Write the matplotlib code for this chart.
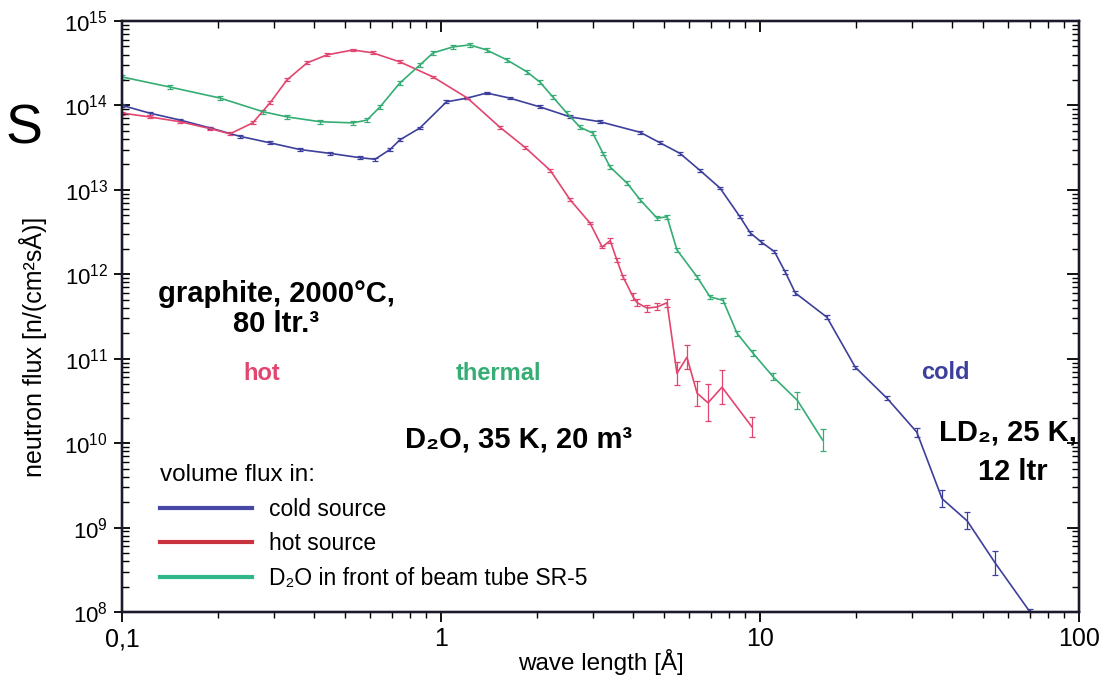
import numpy as np
import matplotlib
matplotlib.use("Agg")
import matplotlib.pyplot as plt
from matplotlib.lines import Line2D
from matplotlib.ticker import LogLocator, FixedLocator, NullFormatter

plt.rcParams['font.family'] = ['Liberation Sans', 'DejaVu Sans']
plt.rcParams['mathtext.fontset'] = 'custom'
plt.rcParams['mathtext.rm'] = 'Liberation Sans'

# ---------- data ----------
# wave length [A] and flux [n/(cm^2 s A)], err = relative half width of the bar
cold_x = [0.100, 0.122, 0.152, 0.189, 0.234, 0.291, 0.361, 0.449, 0.557, 0.621,
          0.692, 0.743, 0.859, 1.04, 1.21, 1.39, 1.64, 2.04, 2.54, 3.15,
          4.21, 4.86, 5.61, 6.48, 7.49, 8.65, 9.31, 10.1, 11.1, 12.0,
          12.9, 16.2, 19.9, 25.0, 31.0, 37.2, 44.6, 54.6, 70.2]
cold_y = [1.0e14, 8.1e13, 6.7e13, 5.4e13, 4.3e13, 3.6e13, 3.0e13, 2.7e13, 2.4e13, 2.3e13,
          3.0e13, 3.9e13, 5.4e13, 1.10e14, 1.22e14, 1.40e14, 1.22e14, 9.6e13, 7.3e13, 6.4e13,
          4.8e13, 3.6e13, 2.7e13, 1.7e13, 1.05e13, 4.8e12, 3.1e12, 2.4e12, 1.85e12, 1.06e12,
          6.0e11, 3.1e11, 7.9e10, 3.4e10, 1.35e10, 2.2e9, 1.2e9, 3.8e8, 1.0e8]
cold_err = [0.04, 0.04, 0.04, 0.04, 0.04, 0.04, 0.04, 0.04, 0.04, 0.04,
            0.04, 0.04, 0.04, 0.04, 0.04, 0.04, 0.04, 0.04, 0.04, 0.04,
            0.04, 0.04, 0.04, 0.04, 0.04, 0.04, 0.05, 0.05, 0.05, 0.05,
            0.05, 0.05, 0.05, 0.06, 0.13, 0.26, 0.26, 0.39, 0.1]

hot_x = [0.100, 0.122, 0.152, 0.189, 0.218, 0.257, 0.291, 0.329, 0.380, 0.439,
         0.530, 0.612, 0.743, 0.944, 1.21, 1.53, 1.83, 2.20, 2.54, 2.93,
         3.20, 3.39, 3.56, 3.72, 4.00, 4.12, 4.42, 4.76, 5.11, 5.49,
         5.90, 6.35, 6.87, 7.60, 9.44]
hot_y = [8.1e13, 7.3e13, 6.4e13, 5.3e13, 4.6e13, 6.2e13, 1.07e14, 2.0e14, 3.18e14, 3.96e14,
         4.53e14, 4.18e14, 3.27e14, 2.17e14, 1.22e14, 5.5e13, 3.2e13, 1.7e13, 7.6e12, 4.05e12,
         2.1e12, 2.5e12, 1.47e12, 9.3e11, 5.4e11, 4.6e11, 3.97e11, 4.1e11, 4.6e11, 6.7e10,
         1.04e11, 3.9e10, 3.0e10, 4.6e10, 1.55e10]
hot_err = [0.04, 0.04, 0.04, 0.04, 0.04, 0.04, 0.04, 0.04, 0.04, 0.04,
           0.04, 0.04, 0.04, 0.04, 0.04, 0.04, 0.04, 0.04, 0.04, 0.04,
           0.04, 0.06, 0.06, 0.06, 0.1, 0.1, 0.1, 0.1, 0.12, 0.37,
           0.39, 0.41, 0.65, 0.6, 0.3]

thermal_x = [0.100, 0.141, 0.203, 0.277, 0.329, 0.418, 0.530, 0.586, 0.644, 0.743,
             0.859, 0.944, 1.09, 1.23, 1.39, 1.61, 1.86, 2.04, 2.24, 2.48,
             2.73, 2.99, 3.22, 3.39, 3.83, 4.21, 4.76, 5.11, 5.49, 6.35,
             6.97, 7.66, 8.47, 9.51, 10.99, 13.1, 15.7]
thermal_y = [2.17e14, 1.65e14, 1.22e14, 8.4e13, 7.3e13, 6.4e13, 6.2e13, 6.7e13, 9.6e13, 1.84e14,
             3.01e14, 4.18e14, 4.92e14, 5.2e14, 4.53e14, 3.45e14, 2.49e14, 1.89e14, 1.26e14, 8.1e13,
             5.5e13, 4.7e13, 2.7e13, 1.86e13, 1.20e13, 7.6e12, 4.6e12, 4.8e12, 1.94e12, 9.3e11,
             5.4e11, 4.9e11, 2.0e11, 1.16e11, 6.1e10, 3.2e10, 1.09e10]
thermal_err = [0.05, 0.05, 0.05, 0.05, 0.05, 0.05, 0.05, 0.05, 0.05, 0.05,
               0.05, 0.05, 0.05, 0.05, 0.05, 0.05, 0.05, 0.05, 0.05, 0.05,
               0.05, 0.05, 0.05, 0.05, 0.05, 0.05, 0.06, 0.06, 0.06, 0.06,
               0.06, 0.06, 0.07, 0.08, 0.1, 0.26, 0.35]

legend_labels = ["cold source", "hot source", "D₂O in front of beam tube SR-5"]
x_ticks = [0.1, 1, 10, 100]
x_ticklabels = ["0,1", "1", "10", "100"]
y_ticks = [1e8, 1e9, 1e10, 1e11, 1e12, 1e13, 1e14, 1e15]

c_cold = "#3d3f9c"
c_hot = "#e2456f"
c_thermal = "#35ad74"

fig = plt.figure(figsize=(11.09, 6.81), dpi=100)
ax = fig.add_axes([0.110, 0.1013, 0.863, 0.868])


def draw(xs, ys, errs, col):
    xs = np.array(xs)
    ys = np.array(ys)
    errs = np.array(errs)
    lo = ys - ys / (1 + errs)
    hi = ys * errs
    ax.errorbar(xs, ys, yerr=[lo, hi], color=col, lw=1.2, elinewidth=0.9,
                capsize=2.5, capthick=0.9)


draw(cold_x, cold_y, cold_err, c_cold)
draw(hot_x, hot_y, hot_err, c_hot)
draw(thermal_x, thermal_y, thermal_err, c_thermal)

ax.set_xscale('log')
ax.set_yscale('log')
ax.set_xlim(0.1, 100)
ax.set_ylim(1e8, 1e15)

ax.xaxis.set_major_locator(FixedLocator(x_ticks))
ax.set_xticklabels(x_ticklabels, fontsize=18)
ax.xaxis.set_minor_locator(LogLocator(base=10, subs=np.arange(2, 10)))
ax.xaxis.set_minor_formatter(NullFormatter())
ax.yaxis.set_major_locator(FixedLocator(y_ticks))
ax.set_yticklabels([r"$10^{%d}$" % round(np.log10(v)) for v in y_ticks], fontsize=16)
ax.yaxis.set_minor_locator(LogLocator(base=10, subs=np.arange(2, 10)))
ax.yaxis.set_minor_formatter(NullFormatter())

ax.tick_params(axis='x', which='major', direction='out', length=7, width=1.3, pad=4)
ax.tick_params(axis='x', which='minor', direction='out', length=4, width=1.0)
ax.tick_params(axis='y', which='major', direction='inout', length=12, width=1.3, pad=4)
ax.tick_params(axis='y', which='minor', direction='in', length=5, width=1.0)

# mirrored ticks on top and right, pointing inside
axt = ax.twiny()
axt.set_xscale('log')
axt.set_xlim(ax.get_xlim())
axt.xaxis.set_major_locator(FixedLocator(x_ticks))
axt.xaxis.set_minor_locator(LogLocator(base=10, subs=np.arange(2, 10)))
axt.tick_params(axis='x', which='both', direction='in', labeltop=False)
axt.tick_params(axis='x', which='major', length=8, width=1.3)
axt.tick_params(axis='x', which='minor', length=5, width=1.0)
axr = ax.twinx()
axr.set_yscale('log')
axr.set_ylim(ax.get_ylim())
axr.yaxis.set_major_locator(FixedLocator(y_ticks))
axr.yaxis.set_minor_locator(LogLocator(base=10, subs=np.arange(2, 10)))
axr.tick_params(axis='y', which='both', direction='in', labelright=False)
axr.tick_params(axis='y', which='major', length=9, width=1.3)
axr.tick_params(axis='y', which='minor', length=5, width=1.0)

for a in (ax, axt, axr):
    for s in a.spines.values():
        s.set_linewidth(1.6)
        s.set_color("#1a1a2a")

ax.set_xlabel("wave length [Å]", fontsize=17.5)
ax.xaxis.set_label_coords(0.5, -0.062)
ax.set_ylabel("neutron flux [n/(cm²sÅ)]", fontsize=18)
ax.yaxis.set_label_coords(-0.078, 0.448)

# annotations
ax.text(0.161, 0.513, "graphite, 2000°C,\n80 ltr.³", transform=ax.transAxes,
        ha='center', va='center', fontsize=21, fontweight='bold', linespacing=1.1)
ax.text(0.146, 0.404, "hot", transform=ax.transAxes, ha='center', va='center',
        fontsize=17, fontweight='bold', color=c_hot)
ax.text(0.393, 0.404, "thermal", transform=ax.transAxes, ha='center', va='center',
        fontsize=17, fontweight='bold', color=c_thermal)
ax.text(0.860, 0.406, "cold", transform=ax.transAxes, ha='center', va='center',
        fontsize=17, fontweight='bold', color=c_cold)
ax.text(0.414, 0.291, "D₂O, 35 K, 20 m³", transform=ax.transAxes, ha='center',
        va='center', fontsize=21, fontweight='bold')
ax.text(0.926, 0.303, "LD₂, 25 K,", transform=ax.transAxes, ha='center',
        va='center', fontsize=21, fontweight='bold')
ax.text(0.931, 0.237, "12 ltr", transform=ax.transAxes, ha='center',
        va='center', fontsize=21, fontweight='bold')

handles = [Line2D([], [], color="#4747a6", lw=3),
           Line2D([], [], color="#c9323f", lw=3),
           Line2D([], [], color="#2fb68a", lw=3)]
leg = ax.legend(handles, legend_labels, title="volume flux in:", loc='upper left',
                bbox_to_anchor=(0.040, 0.250), frameon=False, fontsize=16.5,
                title_fontsize=17.5, borderpad=0, borderaxespad=0,
                handlelength=4.0, handletextpad=0.75, labelspacing=0.5,
                alignment='left')

# cut-off letter from the neighbouring slide at the left edge
fig.text(0.022, 0.81, "S", fontsize=40, ha='center', va='center',
         fontstyle='normal', family='Liberation Sans')

fig.savefig("out.png", dpi=100)
